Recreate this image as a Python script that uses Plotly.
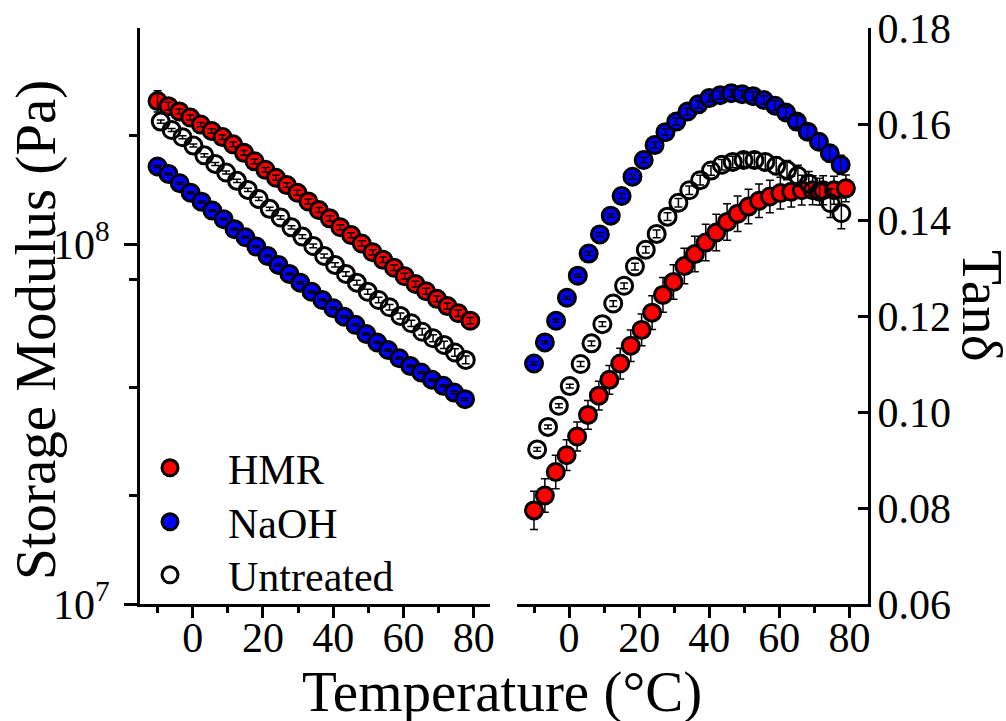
import numpy as np
import plotly.graph_objects as go

# ---- temperature sweep (°C) for each sample ----
temp_hmr = [-10.0, -6.9, -3.8, -0.7, 2.3, 5.4, 8.5, 11.5, 14.6, 17.6,
            20.7, 23.7, 26.8, 29.8, 32.9, 35.9, 39.0, 42.0, 45.1, 48.1,
            51.2, 54.2, 57.3, 60.3, 63.4, 66.4, 69.5, 72.5, 75.6, 79.0]
temp_naoh = [-10.0, -6.9, -3.7, -0.6, 2.5, 5.6, 8.8, 11.9, 15.0, 18.1,
             21.3, 24.4, 27.5, 30.6, 33.8, 36.9, 40.0, 43.1, 46.3, 49.4,
             52.5, 55.6, 58.8, 61.9, 65.0, 68.1, 71.3, 74.4, 77.5]
temp_untreated = [-9.1, -6.0, -2.9, 0.2, 3.3, 6.4, 9.5, 12.6, 15.7, 18.8,
                  21.9, 25.0, 28.1, 31.2, 34.3, 37.4, 40.5, 43.6, 46.7, 49.8,
                  52.9, 56.0, 59.1, 62.2, 65.3, 68.4, 71.5, 74.6, 77.7]

# ---- storage modulus (MPa) and standard deviation (MPa) ----
gp_hmr = [250, 242, 234, 225, 215, 206.5, 198.5, 189.5, 179.5, 170,
          161, 153, 146, 139, 131.5, 124.5, 118, 111.5, 106, 100.5,
          95, 90.5, 86, 81.5, 77.5, 74, 70.5, 67.3, 64.3, 61.3]
gp_hmr_sd = [17, 6, 3.5, 3.5, 3, 3, 3, 3, 2.8, 2.6,
             2.5, 2.4, 2.3, 2.2, 2.1, 2.0, 1.9, 1.8, 1.7, 1.7,
             1.6, 1.6, 1.5, 1.5, 1.4, 1.4, 1.3, 1.3, 1.3, 1.3]
gp_naoh = [164.4, 156.8, 147.7, 139.1, 131.3, 124.0, 117.4, 110.1, 104.6, 98.5,
           92.8, 87.6, 82.7, 78.2, 73.8, 70.0, 66.4, 62.9, 59.7, 56.3,
           53.3, 50.8, 48.2, 45.9, 44.0, 42.0, 40.4, 38.7, 37.1]
gp_naoh_sd = [1.0, 0.95, 0.9, 0.85, 0.8, 0.75, 0.7, 0.65, 0.6, 0.6,
              0.55, 0.55, 0.5, 0.5, 0.45, 0.45, 0.4, 0.4, 0.4, 0.35,
              0.35, 0.35, 0.3, 0.3, 0.3, 0.3, 0.3, 0.3, 0.3]
gp_untreated = [219.2, 207.8, 198.4, 188.0, 176.6, 167.2, 158.3, 150.0, 141.6, 133.6,
                125.4, 118.7, 111.4, 105.0, 98.9, 92.8, 87.6, 82.7, 78.2, 73.8,
                70.0, 66.8, 63.2, 60.3, 57.1, 54.8, 52.5, 50.0, 47.7]
gp_untreated_sd = [2.2, 2.0, 1.9, 1.8, 1.7, 1.6, 1.5, 1.5, 1.4, 1.4,
                   1.3, 1.3, 1.2, 1.2, 1.2, 1.2, 1.2, 1.2, 1.2, 1.2,
                   1.2, 1.2, 1.2, 1.2, 1.2, 1.2, 1.2, 1.2, 1.2]

# ---- loss tangent and standard deviation ----
tand_hmr = [0.0795, 0.0826, 0.0875, 0.0910, 0.0949, 0.0994, 0.1034, 0.1067, 0.1101, 0.1138,
            0.1171, 0.1207, 0.1244, 0.1271, 0.1304, 0.1329, 0.1353, 0.1374, 0.1396, 0.1413,
            0.1428, 0.1440, 0.1449, 0.1456, 0.1459, 0.1462, 0.1462, 0.1462, 0.1462, 0.1466]
tand_hmr_sd = [0.0040, 0.0035, 0.0035, 0.0032, 0.0030, 0.0030, 0.0030, 0.0030, 0.0032, 0.0033,
               0.0033, 0.0035, 0.0036, 0.0036, 0.0037, 0.0037, 0.0038, 0.0038, 0.0038, 0.0037,
               0.0036, 0.0035, 0.0034, 0.0033, 0.0032, 0.0031, 0.0030, 0.0030, 0.0029, 0.0028]
tand_naoh = [0.1101, 0.1145, 0.1190, 0.1238, 0.1284, 0.1330, 0.1370, 0.1409, 0.1450, 0.1490,
             0.1525, 0.1556, 0.1583, 0.1605, 0.1626, 0.1641, 0.1654, 0.1660, 0.1664, 0.1662,
             0.1658, 0.1650, 0.1638, 0.1624, 0.1605, 0.1584, 0.1563, 0.1539, 0.1515]
tand_naoh_sd = [0.0003, 0.0003, 0.0003, 0.0003, 0.0003, 0.0004, 0.0004, 0.0004, 0.0005, 0.0005,
                0.0005, 0.0006, 0.0006, 0.0007, 0.0007, 0.0008, 0.0008, 0.0008, 0.0008, 0.0008,
                0.0009, 0.0009, 0.0010, 0.0011, 0.0012, 0.0014, 0.0016, 0.0018, 0.0020]
tand_untreated = [0.0922, 0.0969, 0.1013, 0.1054, 0.1100, 0.1143, 0.1183, 0.1226, 0.1263, 0.1303,
                  0.1338, 0.1371, 0.1407, 0.1436, 0.1462, 0.1483, 0.1503, 0.1515, 0.1521, 0.1525,
                  0.1525, 0.1521, 0.1513, 0.1504, 0.1492, 0.1476, 0.1459, 0.1435, 0.1414]
tand_untreated_sd = [0.0004, 0.0004, 0.0004, 0.0004, 0.0005, 0.0005, 0.0005, 0.0006, 0.0006, 0.0007,
                     0.0007, 0.0008, 0.0008, 0.0009, 0.0009, 0.0010, 0.0010, 0.0011, 0.0012, 0.0013,
                     0.0014, 0.0016, 0.0018, 0.0020, 0.0022, 0.0025, 0.0028, 0.0030, 0.0032]

MPA = 1e6
FONT = "Liberation Serif"
W, H = 1006, 721


def px(xp):
    return xp / W


def py(yp):
    return 1 - yp / H


samples = [
    ("HMR", "#FF0000", temp_hmr, gp_hmr, gp_hmr_sd, tand_hmr, tand_hmr_sd, "legend"),
    ("NaOH", "#0000FF", temp_naoh, gp_naoh, gp_naoh_sd, tand_naoh, tand_naoh_sd, "legend2"),
    ("Untreated", "rgba(0,0,0,0)", temp_untreated, gp_untreated, gp_untreated_sd,
     tand_untreated, tand_untreated_sd, "legend3"),
]

fig = go.Figure()

marker_base = dict(symbol="circle", size=17, line=dict(color="black", width=3))

# storage modulus panel
for name, color, t, gp, gp_sd, _, _, leg in samples:
    fig.add_trace(go.Scatter(
        x=t, y=np.array(gp) * MPA, mode="markers", name=name,
        marker=dict(marker_base, color=color),
        xaxis="x", yaxis="y", showlegend=True, legend=leg,
    ))
# error bars drawn over the filled symbols
for name, color, t, gp, gp_sd, _, _, _ in samples:
    fig.add_trace(go.Scatter(
        x=t, y=np.array(gp) * MPA, mode="markers",
        marker=dict(size=1, color="rgba(0,0,0,0)"),
        error_y=dict(type="data", array=np.array(gp_sd) * MPA, color="black",
                     thickness=1.5, width=4),
        xaxis="x", yaxis="y", showlegend=False, hoverinfo="skip",
    ))

# tan delta panel
for name, color, t, _, _, td, td_sd, _ in samples:
    under = name == "HMR"
    fig.add_trace(go.Scatter(
        x=t, y=td, mode="markers", name=name,
        marker=dict(marker_base, color=color),
        error_y=(dict(type="data", array=td_sd, color="black", thickness=1.5, width=4)
                 if under else None),
        xaxis="x2", yaxis="y2", showlegend=False,
    ))
for name, color, t, _, _, td, td_sd, _ in samples:
    if name == "HMR":
        continue
    fig.add_trace(go.Scatter(
        x=t, y=td, mode="markers",
        marker=dict(size=1, color="rgba(0,0,0,0)"),
        error_y=dict(type="data", array=td_sd, color="black", thickness=1.5, width=4),
        xaxis="x2", yaxis="y2", showlegend=False, hoverinfo="skip",
    ))

axis_common = dict(
    showline=True, linewidth=3, linecolor="black", showgrid=False, zeroline=False,
    tickfont=dict(family=FONT, size=42, color="black"), tickcolor="black",
    tickwidth=3, automargin=False,
)
x_major = [0, 20, 40, 60, 80]
x_minor = [-10, 10, 30, 50, 70]
y_dom = [py(604), py(28)]


def legend_box(center_y):
    return dict(x=px(112), y=py(center_y), xanchor="left", yanchor="middle",
                bgcolor="rgba(0,0,0,0)", borderwidth=0, itemwidth=106,
                font=dict(family=FONT, size=42, color="black"))


fig.update_layout(
    width=W, height=H,
    margin=dict(l=0, r=0, t=0, b=0, autoexpand=False),
    paper_bgcolor="white", plot_bgcolor="rgba(0,0,0,0)",
    font=dict(family=FONT, color="black"),
    xaxis=dict(axis_common, domain=[px(140), px(490)], range=[-15.0, 84.6],
               anchor="y", ticks="outside", ticklen=11, tickmode="array",
               tickvals=x_major, ticklabelstandoff=-16,
               minor=dict(tickmode="array", tickvals=x_minor, ticks="outside",
                          ticklen=6, tickwidth=3, tickcolor="black")),
    yaxis=dict(axis_common, domain=y_dom, type="log", range=[7, 8.601],
               anchor="x", ticks="outside", ticklen=13, tickmode="array",
               tickvals=[1e7, 1e8],
               ticktext=["10<sup>7</sup>", "10<sup>8</sup>"],
               ticklabelstandoff=6,
               minor=dict(tickmode="array", tickvals=[2e7, 4e7, 8e7, 2e8, 4e8],
                          ticks="outside", ticklen=8, tickwidth=3,
                          tickcolor="black")),
    xaxis2=dict(axis_common, domain=[px(517), px(868)], range=[-14.85, 85.3],
                anchor="y2", ticks="outside", ticklen=11, tickmode="array",
                tickvals=x_major, ticklabelstandoff=-16,
                minor=dict(tickmode="array", tickvals=x_minor, ticks="outside",
                           ticklen=6, tickwidth=3, tickcolor="black")),
    yaxis2=dict(axis_common, domain=y_dom, range=[0.06, 0.18], anchor="x2",
                side="right", ticks="inside", ticklen=10, tickmode="array",
                tickvals=[0.06, 0.08, 0.10, 0.12, 0.14, 0.16, 0.18],
                tickformat=".2f", ticklabelstandoff=-2),
    legend=legend_box(468),
    legend2=legend_box(522),
    legend3=legend_box(575),
    showlegend=True,
    annotations=[
        dict(text="Storage Modulus (Pa)", x=px(36), y=py(330), xref="paper",
             yref="paper", showarrow=False, textangle=-90,
             font=dict(family=FONT, size=57, color="black"),
             xanchor="center", yanchor="middle"),
        dict(text="Temperature (°C)", x=px(502), y=py(692), xref="paper",
             yref="paper", showarrow=False,
             font=dict(family=FONT, size=57, color="black"),
             xanchor="center", yanchor="middle"),
        dict(text="Tanδ", x=px(983), y=py(306), xref="paper", yref="paper",
             showarrow=False, textangle=90,
             font=dict(family=FONT, size=57, color="black"),
             xanchor="center", yanchor="middle"),
    ],
)

fig.write_html("out.html")
